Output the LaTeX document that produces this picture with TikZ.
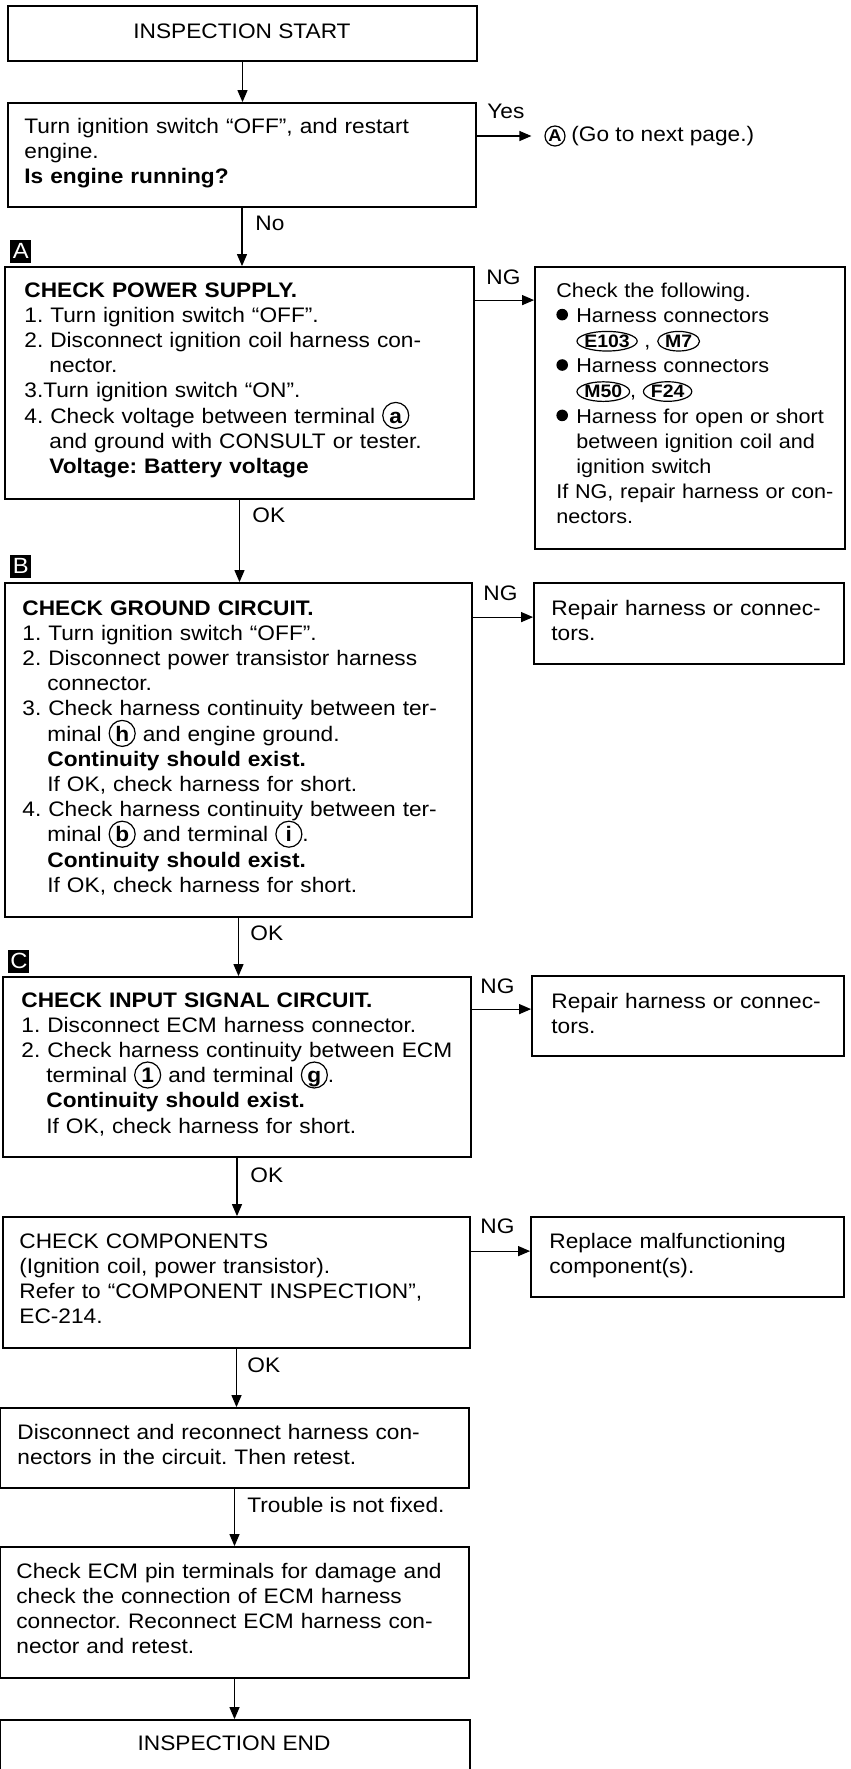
\documentclass[tikz,border=0pt]{standalone}
\usepackage{fontspec}
\setmainfont{Liberation Sans}[FakeStretch=1.08]
\usetikzlibrary{arrows.meta,fit,calc}

\newcommand\mainsz{\fontsize{10.5pt}{12.6pt}\selectfont\lineskiplimit=-20pt\frenchspacing\relax}
\newcommand\rsz{\fontsize{10pt}{12.6pt}\selectfont\lineskiplimit=-20pt\frenchspacing\relax}
\newcommand\ind{\hspace*{12.5pt}}
\newcommand\rind{\hspace*{10pt}}
\newcommand\circled[1]{\tikz[baseline=0pt,x=1pt,y=1pt]\node[draw,circle,line width=0.6pt,inner sep=0pt,minimum size=13pt,text height=7.6pt,text depth=0pt,font=\bfseries,anchor=base] (circ) at (0,0) {#1};}
\newcommand\conn[1]{\tikz[baseline=0pt,x=1pt,y=1pt]{\node[inner sep=0pt,font=\bfseries\fontsize{9pt}{9pt}\selectfont,anchor=base] (cn) at (0,0) {#1};
  \draw[line width=0.6pt] let \p1=($(cn.east)-(cn.west)$) in (cn.center) ellipse [x radius={0.5*\x1+3.5pt}, y radius=4.9pt];}}
\newcommand\bul{\makebox[10pt][l]{\tikz[baseline=0pt,x=1pt,y=1pt]\fill (2.9,3.8) circle (2.9);}}

\begin{document}
\begin{tikzpicture}[x=0.5pt,y=-0.5pt,
  box/.style={draw, line width=0.9pt, inner sep=0pt},
  arr/.style={line width=0.6pt, -{Triangle[length=6pt,width=5pt]}},
  txt/.style={anchor=base west, inner sep=0pt, align=left, text width=235pt, font=\mainsz},
  rtxt/.style={anchor=base west, inner sep=0pt, align=left, text width=165pt, font=\mainsz},
  lab/.style={anchor=base west, inner sep=0pt, font=\mainsz},
  stepmark/.style={fill=black, text=white, inner sep=0pt, minimum width=10.5pt, minimum height=11.5pt, anchor=south west, font=\fontsize{11pt}{11pt}\selectfont}]
\useasboundingbox (0,0) rectangle (851,1769);
\clip (0,0) rectangle (851,1769);

% Start
\node[box, fit={(8,6)(477,61)}] (start) {};
\node[lab, anchor=base] (startT) at (242,38) {INSPECTION START};

% Q1
\node[box, fit={(8,103)(476,207)}] (q1) {};
\node[txt] (q1T) at (24,133) {Turn ignition switch “OFF”, and restart\\engine.\\\textbf{Is engine running?}};
\draw[arr] (start.south) -- (start.south |- q1.north);
\node[lab] (yes) at (487,118) {Yes};
\node[draw, circle, inner sep=0pt, line width=0.6pt, minimum size=10pt, font=\bfseries\fontsize{8.5pt}{8.5pt}\selectfont] (gA) at (555,136) {A};
\node[lab] (gonext) at (571,141) {(Go to next page.)};
\draw[arr] (q1.east |- gA) -- ($(gA.west)+(-13,0)$);

% Box A
\node[lab] (no) at (255,230) {No};
\node[stepmark] (mA) at (10,263) {A};
\node[box, fit={(5,267)(474,499)}] (bA) {};
\draw[arr] (q1.south) -- (q1.south |- bA.north);
\node[txt] (bAT) at (24,297) {\textbf{CHECK POWER SUPPLY.}\\
1. Turn ignition switch “OFF”.\\
2. Disconnect ignition coil harness con-\\
\ind nector.\\
3.Turn ignition switch “ON”.\\
4. Check voltage between terminal \circled{a}\\
\ind and ground with CONSULT or tester.\\
\ind \textbf{Voltage: Battery voltage}};
\node[box, fit={(535,267)(845,549)}] (rA) {};
\node[lab] (ngA) at (486,284) {NG};
\coordinate (cA) at ($(bA.north east)+(0,34)$);
\draw[arr] (cA) -- (cA -| rA.west);
\node[rtxt, font=\rsz] (rAT) at (556,297) {Check the following.\\
\bul Harness connectors\\
\rind\conn{E103} , \conn{M7}\\
\bul Harness connectors\\
\rind\conn{M50}, \conn{F24}\\
\bul Harness for open or short\\
\rind between ignition coil and\\
\rind ignition switch\\
If NG, repair harness or con-\\
nectors.};

% Box B
\node[lab] (okA) at (252,522) {OK};
\node[stepmark] (mB) at (10,578) {B};
\node[box, fit={(5,583)(472,917)}] (bB) {};
\draw[arr] (bA.south) -- (bA.south |- bB.north);
\node[txt] (bBT) at (22,615) {\textbf{CHECK GROUND CIRCUIT.}\\
1. Turn ignition switch “OFF”.\\
2. Disconnect power transistor harness\\
\ind connector.\\
3. Check harness continuity between ter-\\
\ind minal \circled{h} and engine ground.\\
\ind \textbf{Continuity should exist.}\\
\ind If OK, check harness for short.\\
4. Check harness continuity between ter-\\
\ind minal \circled{b} and terminal \circled{i}.\\
\ind \textbf{Continuity should exist.}\\
\ind If OK, check harness for short.};
\node[box, fit={(534,583)(844,664)}] (rB) {};
\node[lab] (ngB) at (483,600) {NG};
\coordinate (cB) at ($(bB.north east)+(0,35)$);
\draw[arr] (cB) -- (cB -| rB.west);
\node[rtxt] (rBT) at (551,615) {Repair harness or connec-\\tors.};

% Box C
\node[lab] (okB) at (250,940) {OK};
\node[stepmark] (mC) at (8,973) {C};
\node[box, fit={(3,977)(471,1157)}] (bC) {};
\draw[arr] (bB.south) -- (bB.south |- bC.north);
\node[txt] (bCT) at (21,1007) {\textbf{CHECK INPUT SIGNAL CIRCUIT.}\\
1. Disconnect ECM harness connector.\\
2. Check harness continuity between ECM\\
\ind terminal \circled{1} and terminal \circled{g}.\\
\ind \textbf{Continuity should exist.}\\
\ind If OK, check harness for short.};
\node[box, fit={(532,976)(844,1056)}] (rC) {};
\node[lab] (ngC) at (480,993) {NG};
\coordinate (cC) at ($(bC.north east)+(0,33)$);
\draw[arr] (cC) -- (cC -| rC.west);
\node[rtxt] (rCT) at (551,1008) {Repair harness or connec-\\tors.};

% Box D
\node[lab] (okC) at (250,1182) {OK};
\node[box, fit={(3,1217)(470,1348)}] (bD) {};
\draw[arr] (bC.south) -- (bC.south |- bD.north);
\node[txt] (bDT) at (19,1248) {CHECK COMPONENTS\\
(Ignition coil, power transistor).\\
Refer to “COMPONENT INSPECTION”,\\
EC-214.};
\node[box, fit={(531,1217)(844,1297)}] (rD) {};
\node[lab] (ngD) at (480,1233) {NG};
\coordinate (cD) at ($(bD.north east)+(0,35)$);
\draw[arr] (cD) -- (cD -| rD.west);
\node[rtxt] (rDT) at (549,1248) {Replace malfunctioning\\component(s).};

% Box E
\node[lab] (okD) at (247,1372) {OK};
\node[box, fit={(0,1408)(469,1488)}] (bE) {};
\draw[arr] (bD.south) -- (bD.south |- bE.north);
\node[txt] (bET) at (17,1439) {Disconnect and reconnect harness con-\\
nectors in the circuit. Then retest.};

% Box F
\node[lab] (notfixed) at (247,1512) {Trouble is not fixed.};
\node[box, fit={(0,1547)(469,1678)}] (bF) {};
\draw[arr] (bE.south) -- (bE.south |- bF.north);
\node[txt] (bFT) at (16,1578) {Check ECM pin terminals for damage and\\
check the connection of ECM harness\\
connector. Reconnect ECM harness con-\\
nector and retest.};

% End
\node[box, fit={(0,1720)(470,1773)}] (endb) {};
\draw[arr] (bF.south) -- (bF.south |- endb.north);
\node[lab, anchor=base] (endT) at (234,1750) {INSPECTION END};
\end{tikzpicture}
\end{document}
